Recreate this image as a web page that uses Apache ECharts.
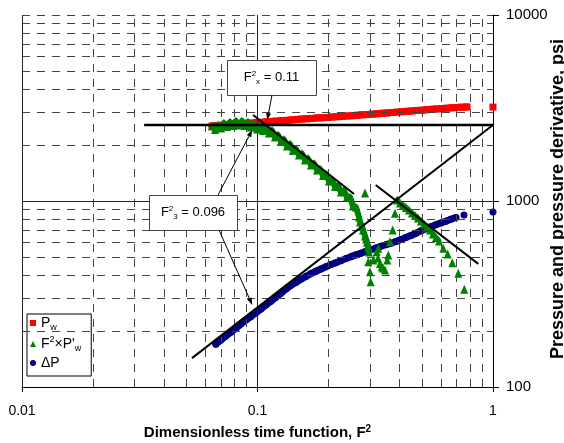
<!DOCTYPE html>
<html>
<head>
<meta charset="utf-8">
<script src="https://cdn.jsdelivr.net/npm/echarts@6/dist/echarts.min.js"></script>
<style>
html, body { margin: 0; padding: 0; background: #fff; }
#chart { width: 564px; height: 443px; }
</style>
</head>
<body>
<div id="chart"></div>
<script>
var FONT = "'Liberation Sans',Arial,sans-serif";

// Pw (squares)
var pwX = [0.0641,0.0673,0.0706,0.0742,0.0779,0.0818,0.0859,0.0902,0.0947,0.0995,0.1045,0.1097,0.1152,0.1210,0.1270,0.1334,0.1401,0.1471,0.1545,0.1622,0.1703,0.1789,0.1878,0.1972,0.2071,0.2175,0.2284,0.2398,0.2518,0.2644,0.2777,0.2916,0.3062,0.3215,0.3376,0.3545,0.3723,0.3909,0.4105,0.4311,0.4527,0.4753,0.4991,0.5241,0.5504,0.5779,0.6069,0.6373,0.6692,0.7027,0.7379,0.7748,1.0];
var pwY = [2530,2540,2555,2565,2580,2590,2600,2615,2625,2640,2650,2665,2680,2690,2705,2715,2730,2745,2760,2770,2780,2795,2805,2815,2830,2840,2850,2865,2875,2890,2905,2915,2930,2945,2960,2975,2990,3005,3020,3035,3050,3065,3080,3095,3110,3125,3140,3155,3170,3185,3195,3205,3200];

// F^2 x P'w (triangles)
var derivX = [0.0641,0.0660,0.0679,0.0700,0.0720,0.0742,0.0764,0.0787,0.0810,0.0834,0.0859,0.0885,0.0911,0.0938,0.0966,0.0995,0.1024,0.1055,0.1086,0.1119,0.1152,0.1186,0.1221,0.1258,0.1295,0.1334,0.1374,0.1414,0.1457,0.1500,0.1545,0.1591,0.1638,0.1687,0.1737,0.1789,0.1842,0.1897,0.1953,0.2011,0.2071,0.2133,0.2196,0.2262,0.2329,0.2398,0.2470,0.2543,0.2619,
  0.2698,0.2724,0.2778,0.2805,0.2861,0.2889,0.2917,0.2946,0.2975,0.2954,0.3004,0.3024,0.2861,
  0.3102,0.3207,0.3258,0.3248,0.3312,0.3368,0.3411,0.3478,0.3557,0.3592,0.3652,0.3750,0.3835,
  0.3912,0.4029,0.4147,0.4271,0.4398,0.4529,0.4664,0.4803,0.4946,0.5094,0.5245,0.5400,0.5562,0.5727,0.5898,0.6151,0.6421,0.6717,0.7121,0.7554];
var derivY = [2531,2423,2563,2469,2626,2515,2659,2547,2692,2563,2692,2547,2659,2500,2594,2438,2547,2393,2469,2320,2393,2208,2264,2102,2141,1976,2025,1868,1903,1767,1800,1662,1693,1562,1591,1468,1486,1371,1397,1281,1297,1197,1212,1118,1139,1051,1051,940,928,
  820,771,734,698,648,625,602,566,532,472,417,368,1104,
  482,534,557,494,462,443,436,426,482,512,604,698,859,
  1012,976,952,923,894,862,836,810,781,752,725,698,665,637,610,557,519,466,409,335];

// delta P (circles)
var dpX = [0.0666,0.0699,0.0734,0.0771,0.0810,0.0850,0.0893,0.0938,0.0985,0.1034,0.1086,0.1140,0.1197,0.1257,0.1320,0.1386,0.1456,0.1529,0.1605,0.1686,0.1770,0.1859,0.1952,0.2050,0.2152,0.2260,0.2373,0.2492,0.2617,0.2748,0.2886,0.3030,0.3182,0.3341,0.3509,0.3684,0.3869,0.4063,0.4266,0.4480,0.4704,0.4940,0.5187,0.5447,0.5720,0.6006,0.6307,0.6623,0.6955,0.7531,1.0];
var dpY = [170,179,188,197,207,218,229,239,251,263,276,289,304,319,336,352,365,379,393,407,419,431,443,455,466,478,490,502,513,524,536,547,559,571,582,592,606,620,636,652,671,691,709,728,746,762,778,797,816,841,873];

// straight guide lines
var lineFlat = [[0.033, 2563], [1, 2563]];
var lineFall = [[0.0958, 2900], [0.257, 1091]];
var lineUnit = [[0.0527, 143], [1, 2563]];
var lineLate = [[0.3176, 1219], [0.8661, 459]];

// grid
var gridX = [0.02,0.03,0.04,0.05,0.06,0.07,0.08,0.09,0.2,0.3,0.4,0.5,0.6,0.7,0.8,0.9];
var gridY = [200,300,400,500,600,700,800,900,2000,3000,4000,5000,6000,7000,8000,9000,10000];
var solidX = [0.01, 0.1];
var solidY = [1000];

function zip(xs, ys) { return xs.map(function (x, i) { return [x, ys[i]]; }); }

var legendNames = { pw: '{n|P}{sub|w}', deriv: "{n|F}{sup|2}{n|\u00d7P'}{sub|w}", dp: '{n|\u0394P}' };

var chart = echarts.init(document.getElementById('chart'));

function guide(data, w) {
  return { type: 'line', data: data, symbol: 'none', silent: true, z: 6,
    lineStyle: { color: '#000', width: w }, animation: false };
}

// the dense runs of markers merge into a solid band; a thick line through them fills the gaps
function band(data, color, w, z) {
  return { type: 'line', data: data, symbol: 'none', silent: true, z: z,
    lineStyle: { color: color, width: w, cap: 'round', join: 'round' }, animation: false };
}

var pwData = zip(pwX, pwY);
var dpData = zip(dpX, dpY);
var derivData = zip(derivX, derivY);

var option = {
  animation: false,
  backgroundColor: '#fff',
  grid: { left: 22, right: 71, top: 15, bottom: 56, outerBoundsMode: 'none', containLabel: false },
  xAxis: {
    type: 'log', logBase: 10, min: 0.01, max: 1,
    axisLine: { onZero: false, lineStyle: { color: '#000', width: 1 } },
    axisTick: { show: true, length: 5, lineStyle: { color: '#000' } },
    axisLabel: { color: '#000', fontSize: 14, fontFamily: FONT, margin: 17,
      formatter: function (v) { return String(v); } },
    splitLine: { show: false },
    name: '{t|Dimensionless time function, F}{sup|2}',
    nameLocation: 'middle', nameGap: 37,
    nameTextStyle: {
      color: '#000', fontFamily: FONT, fontSize: 15, fontWeight: 'bold',
      rich: {
        t: { fontFamily: FONT, fontSize: 15, fontWeight: 'bold', color: '#000', lineHeight: 18 },
        sup: { fontFamily: FONT, fontSize: 10, fontWeight: 'bold', color: '#000', verticalAlign: 'top' }
      }
    }
  },
  yAxis: {
    type: 'log', logBase: 10, min: 100, max: 10000, position: 'right',
    axisLine: { show: true, onZero: false, lineStyle: { color: '#000', width: 1 } },
    axisTick: { show: true, length: 6, lineStyle: { color: '#000' } },
    axisLabel: { color: '#000', fontSize: 15, fontFamily: FONT, margin: 13,
      formatter: function (v) { return String(v); } },
    splitLine: { show: false }
  },
  legend: {
    orient: 'vertical', left: 27, top: 314,
    data: ['pw', 'deriv', 'dp'],
    itemWidth: 6, itemHeight: 6, itemGap: 3,
    padding: [2, 10, 6, 3],
    backgroundColor: '#fff', borderColor: '#000', borderWidth: 1, borderRadius: 0,
    formatter: function (name) { return legendNames[name]; },
    textStyle: {
      color: '#000', fontFamily: FONT, fontSize: 14,
      rich: {
        n: { fontFamily: FONT, fontSize: 14, color: '#000', lineHeight: 18 },
        sub: { fontFamily: FONT, fontSize: 9, color: '#000', verticalAlign: 'bottom' },
        sup: { fontFamily: FONT, fontSize: 9, color: '#000', verticalAlign: 'top' }
      }
    }
  },
  series: [
    {
      name: 'gridDash', type: 'line', data: [], silent: true, z: 1,
      markLine: {
        silent: true, symbol: ['none', 'none'], label: { show: false }, animation: false,
        lineStyle: { color: '#444', width: 1, type: [8, 7] },
        data: gridX.map(function (v) { return { xAxis: v }; })
          .concat(gridY.map(function (v) { return { yAxis: v }; }))
      }
    },
    {
      name: 'gridSolid', type: 'line', data: [], silent: true, z: 1,
      markLine: {
        silent: true, symbol: ['none', 'none'], label: { show: false }, animation: false,
        lineStyle: { color: '#222', width: 1, type: 'solid' },
        data: solidX.map(function (v) { return { xAxis: v }; })
          .concat(solidY.map(function (v) { return { yAxis: v }; }))
      }
    },
    band(pwData.slice(0, -1), '#ff0000', 7, 2),
    { name: 'pw', type: 'scatter', symbol: 'rect', symbolSize: 7, clip: false, z: 3,
      itemStyle: { color: '#ff0000', opacity: 1 }, data: pwData },
    band(dpData.slice(0, -2), '#000080', 7, 3),
    { name: 'dp', type: 'scatter', symbol: 'circle', symbolSize: 7, clip: false, z: 4,
      itemStyle: { color: '#000080', opacity: 1 }, data: dpData },
    band(derivData.slice(0, 58), '#008000', 6, 5),
    band(derivData.slice(75, 90), '#008000', 5, 5),
    { name: 'deriv', type: 'scatter', symbol: 'triangle', symbolSize: [8, 9], clip: false, z: 5,
      itemStyle: { color: '#008000', opacity: 1 }, data: derivData },
    guide(lineFlat, 2.5),
    guide(lineFall, 2),
    guide(lineUnit, 2),
    guide(lineLate, 2)
  ]
};

chart.setOption(option);

function px(v) { return chart.convertToPixel({ gridIndex: 0 }, v); }

function arrow(p0, p1) {
  var dx = p1[0] - p0[0], dy = p1[1] - p0[1];
  var L = Math.sqrt(dx * dx + dy * dy), ux = dx / L, uy = dy / L;
  var hl = 7, hw = 2.5;
  var bx = p1[0] - ux * hl, by = p1[1] - uy * hl;
  return [
    { type: 'line', z: 50, shape: { x1: p0[0], y1: p0[1], x2: bx, y2: by },
      style: { stroke: '#000', lineWidth: 1 } },
    { type: 'polygon', z: 50, shape: { points: [[p1[0], p1[1]], [bx - uy * hw, by + ux * hw], [bx + uy * hw, by - ux * hw]] },
      style: { fill: '#000' } }
  ];
}

var noteRich = {
  n: { fontFamily: FONT, fontSize: 13, fill: '#000', lineHeight: 16 },
  sup: { fontFamily: FONT, fontSize: 8, fill: '#000', verticalAlign: 'top' },
  sub: { fontFamily: FONT, fontSize: 8, fill: '#000', verticalAlign: 'bottom' }
};

function noteBox(x, y, w, h, text) {
  return [
    { type: 'rect', z: 50, shape: { x: x + 0.5, y: y + 0.5, width: w, height: h },
      style: { fill: '#fff', stroke: '#444', lineWidth: 1 } },
    { type: 'text', z: 51, x: x + w / 2, y: y + h / 2,
      style: { text: text, rich: noteRich, align: 'center', verticalAlign: 'middle', fill: '#000',
        font: '13px ' + FONT } }
  ];
}

var tipX = px([0.11, 2726]);
var tip3a = px([0.095, 2410]);
var tip3b = px([0.095, 276]);

var graphics = []
  .concat(noteBox(227, 60, 89, 35, '{n|F}{sup|2}{sub|x}{n| = 0.11}'))
  .concat(arrow([272, 95], tipX))
  .concat(noteBox(149, 195, 88, 35, '{n|F}{sup|2}{sub|3}{n| = 0.096}'))
  .concat(arrow([218, 195], tip3a))
  .concat(arrow([219, 230], tip3b))
  .concat([{
    type: 'text', z: 51, x: 558, y: 199, rotation: Math.PI / 2,
    style: { text: 'Pressure and pressure derivative, psi', fill: '#000',
      font: 'bold 18px "Liberation Sans", Arial, sans-serif', align: 'center', verticalAlign: 'middle' }
  }]);

chart.setOption({ graphic: graphics });
</script>
</body>
</html>
